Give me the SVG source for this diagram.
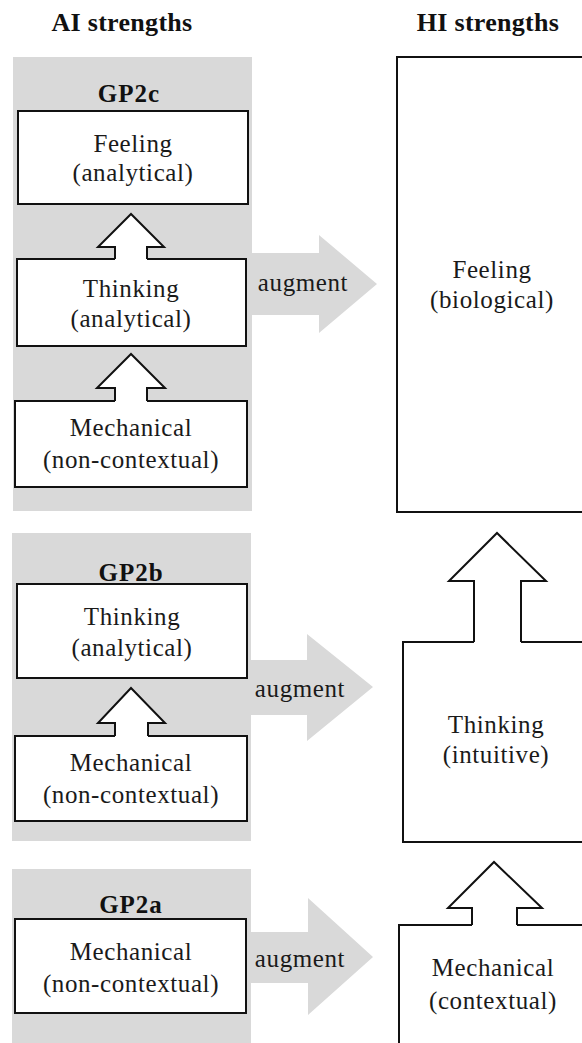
<svg xmlns="http://www.w3.org/2000/svg" width="582" height="1043" viewBox="0 0 582 1043">
  <style>
    .panel { fill: #d9d9d9; }
    .box { fill: #ffffff; stroke: #111111; stroke-width: 2; }
    .txt { font-family: "Liberation Serif", "Times New Roman", serif; font-size: 25px; letter-spacing: 0.6px; fill: #1a1a1a; text-anchor: middle; }
    .head { font-family: "Liberation Serif", "Times New Roman", serif; font-size: 26px; font-weight: bold; letter-spacing: 0.3px; fill: #111111; text-anchor: middle; }
    .gp { font-family: "Liberation Serif", "Times New Roman", serif; font-size: 25px; font-weight: bold; letter-spacing: 1px; fill: #111111; text-anchor: middle; }
    .aug { fill: #d9d9d9; }
    .upfill { fill: #ffffff; stroke: none; }
    .upline { fill: none; stroke: #111111; stroke-width: 2; stroke-linejoin: miter; }
  </style>

  <rect width="582" height="1043" fill="#ffffff"/>

  <!-- column headings -->
  <text class="head" x="122" y="31">AI strengths</text>
  <text class="head" x="488" y="31">HI strengths</text>

  <!-- grey panels -->
  <g id="panel-gp2c">
    <rect class="panel" x="13" y="57" width="239" height="454"/>
    <text class="gp" x="129" y="102">GP2c</text>
  </g>
  <g id="panel-gp2b">
    <rect class="panel" x="12" y="533" width="239" height="308"/>
    <text class="gp" x="131" y="581">GP2b</text>
  </g>
  <g id="panel-gp2a">
    <rect class="panel" x="12" y="869" width="239" height="180"/>
    <text class="gp" x="131" y="913">GP2a</text>
  </g>

  <!-- augment arrows (behind the boxes) -->
  <g id="connectors-augment">
    <path class="aug" d="M252,253 H319 V235 L377,284 L319,333 V315 H252 Z"/>
    <text class="txt" x="303" y="291">augment</text>
    <path class="aug" d="M251,660 H307 V634 L373,687 L307,741 V715 H251 Z"/>
    <text class="txt" x="300" y="697">augment</text>
    <path class="aug" d="M251,932 H308 V898 L373,957 L308,1015 V983 H251 Z"/>
    <text class="txt" x="300" y="967">augment</text>
  </g>

  <!-- AI side nodes -->
  <g id="ai-c-feeling">
    <rect class="box" x="18" y="111" width="230" height="93"/>
    <text class="txt" x="133" y="152">Feeling</text>
    <text class="txt" x="133" y="181">(analytical)</text>
  </g>
  <g id="ai-c-thinking">
    <rect class="box" x="17" y="259" width="229" height="87"/>
    <text class="txt" x="131" y="297">Thinking</text>
    <text class="txt" x="131" y="327">(analytical)</text>
  </g>
  <g id="ai-c-mechanical">
    <rect class="box" x="15" y="401" width="232" height="86"/>
    <text class="txt" x="131" y="436">Mechanical</text>
    <text class="txt" x="131" y="468">(non-contextual)</text>
  </g>

  <g id="ai-b-thinking">
    <rect class="box" x="17" y="584" width="230" height="94"/>
    <text class="txt" x="132" y="625">Thinking</text>
    <text class="txt" x="132" y="656">(analytical)</text>
  </g>
  <g id="ai-b-mechanical">
    <rect class="box" x="15" y="736" width="232" height="85"/>
    <text class="txt" x="131" y="771">Mechanical</text>
    <text class="txt" x="131" y="803">(non-contextual)</text>
  </g>

  <g id="ai-a-mechanical">
    <rect class="box" x="15" y="919" width="231" height="94"/>
    <text class="txt" x="131" y="960">Mechanical</text>
    <text class="txt" x="131" y="992">(non-contextual)</text>
  </g>

  <!-- HI side nodes (open to the right edge) -->
  <g id="hi-feeling">
    <rect class="box" x="397" y="57" width="220" height="455"/>
    <text class="txt" x="492" y="278">Feeling</text>
    <text class="txt" x="492" y="308">(biological)</text>
  </g>
  <g id="hi-thinking">
    <rect class="box" x="403" y="642" width="220" height="200"/>
    <text class="txt" x="496" y="733">Thinking</text>
    <text class="txt" x="496" y="763">(intuitive)</text>
  </g>
  <g id="hi-mechanical">
    <rect class="box" x="399" y="925" width="220" height="140"/>
    <text class="txt" x="493" y="976">Mechanical</text>
    <text class="txt" x="493" y="1009">(contextual)</text>
  </g>

  <!-- hollow "builds on" arrows rising from the box tops -->
  <g id="connectors-up">
    <polygon class="upfill" points="115,261 115,247 98,247 131,214 164,247 147,247 147,261"/>
    <polyline class="upline" points="115,259 115,247 98,247 131,214 164,247 147,247 147,259"/>

    <polygon class="upfill" points="115,403 115,388 97,388 131,354 165,388 147,388 147,403"/>
    <polyline class="upline" points="115,401 115,388 97,388 131,354 165,388 147,388 147,401"/>

    <polygon class="upfill" points="115,738 115,723 98,723 131,688 165,723 148,723 148,738"/>
    <polyline class="upline" points="115,736 115,723 98,723 131,688 165,723 148,723 148,736"/>

    <polygon class="upfill" points="474,644 474,581 449,581 497,533 546,581 521,581 521,644"/>
    <polyline class="upline" points="474,642 474,581 449,581 497,533 546,581 521,581 521,642"/>

    <polygon class="upfill" points="472,927 472,908 448,908 494,862 542,908 517,908 517,927"/>
    <polyline class="upline" points="472,925 472,908 448,908 494,862 542,908 517,908 517,925"/>
  </g>
</svg>
